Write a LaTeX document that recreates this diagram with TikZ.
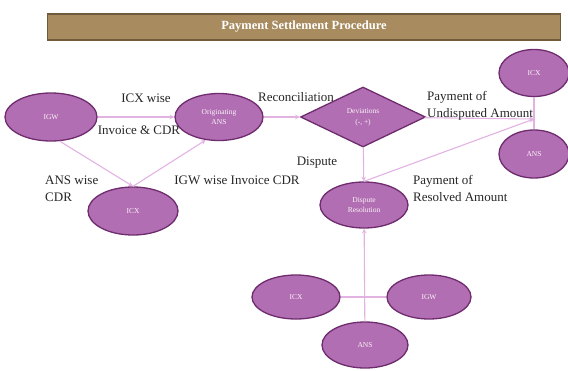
\documentclass[tikz,border=0pt]{standalone}
\usepackage{fontspec}
\setmainfont{Liberation Serif}
\usetikzlibrary{arrows,shapes,positioning}
\definecolor{psfill}{RGB}{178,110,178}
\definecolor{psborder}{RGB}{110,44,110}
\definecolor{pslink}{RGB}{226,178,226}
\definecolor{pstan}{RGB}{168,139,95}
\definecolor{pstandark}{RGB}{112,90,58}
\tikzstyle{stage} = [ellipse, draw=psborder, fill=psfill, line width=1.3pt, text=white!92!psfill, align=center, inner sep=0pt, font=\fontsize{7.5}{10}\selectfont]
\tikzstyle{check} = [diamond, draw=psborder, fill=psfill, line width=1.3pt, text=white!92!psfill, align=center, inner sep=0pt, font=\fontsize{7.5}{11}\selectfont]
\tikzstyle{link} = [line width=1.1pt, ->, >=stealth, color=pslink]
\tikzstyle{plainlink} = [line width=1.1pt, color=pslink]
\tikzstyle{lbl} = [font=\fontsize{13}{15}\selectfont, text=black!85, inner sep=0pt, align=left]
\tikzstyle{titlebar} = [rectangle, draw=pstandark, fill=pstan, line width=1.6pt, text=white, font=\bfseries\fontsize{12.5}{14}\selectfont]

\begin{document}
\begin{tikzpicture}[x=1pt, y=-1pt]
\useasboundingbox (0,0) rectangle (568,370);
% Title
\node (title) [titlebar, minimum width=513pt, minimum height=26pt] at (304,27) {Payment Settlement Procedure};

% Invoicing
\node (igw) [stage, minimum width=92pt, minimum height=48pt] at (51,117) {IGW};
\node (orig) [stage, minimum width=88pt, minimum height=47pt] at (219,117) {Originating\\ANS};
\node (icx) [stage, minimum width=90pt, minimum height=48pt] at (133,211) {ICX};

% Reconciliation
\node (dev) [check, minimum width=125pt, minimum height=60pt] at (363,117) {Deviations\\(-, +)};
\node (disp) [stage, minimum width=88pt, minimum height=46pt] at (364,205) {Dispute\\Resolution};

% Payees
\node (icxR) [stage, minimum width=70pt, minimum height=47pt] at (534,73) {ICX};
\node (ansR) [stage, minimum width=70pt, minimum height=48pt] at (534,154) {ANS};
\coordinate (pay) at (534,119);

% Dispute parties
\node (icxB) [stage, minimum width=88pt, minimum height=44pt] at (296,297) {ICX};
\node (igwB) [stage, minimum width=84pt, minimum height=44pt] at (429,297) {IGW};
\node (ansB) [stage, minimum width=86pt, minimum height=46pt] at (365,345) {ANS};

% Arrows
\draw[link] (igw) -- (orig);
\draw[link] (igw.290) -- (icx.north);
\draw[link] (icx.north) -- (orig.240);
\draw[link] (orig) -- (dev);
\draw[link] (dev) -- (pay);
\draw[plainlink] (icxR) -- (ansR);
\draw[link] (dev) -- (disp);
\draw[link] (disp.north) -- (pay);
\draw[plainlink] (icxB) -- (igwB);
\draw[link] (ansB) -- (disp);

% Labels
\node (l1) [lbl] at (146,98) {ICX wise};
\node (l2) [lbl] at (139,130) {Invoice \& CDR};
\node (l3) [lbl, anchor=west] at (45,189) {ANS wise\\[2pt]CDR};
\node (l4) [lbl] at (237,180) {IGW wise Invoice CDR};
\node (l5) [lbl] at (296,97) {Reconciliation};
\node (l6) [lbl, anchor=west] at (427,106) {Payment of\\[2pt]Undisputed Amount};
\node (l7) [lbl] at (317,163) {Dispute};
\node (l8) [lbl, anchor=west] at (413,188) {Payment of\\[2pt]Resolved Amount};
\end{tikzpicture}
\end{document}
